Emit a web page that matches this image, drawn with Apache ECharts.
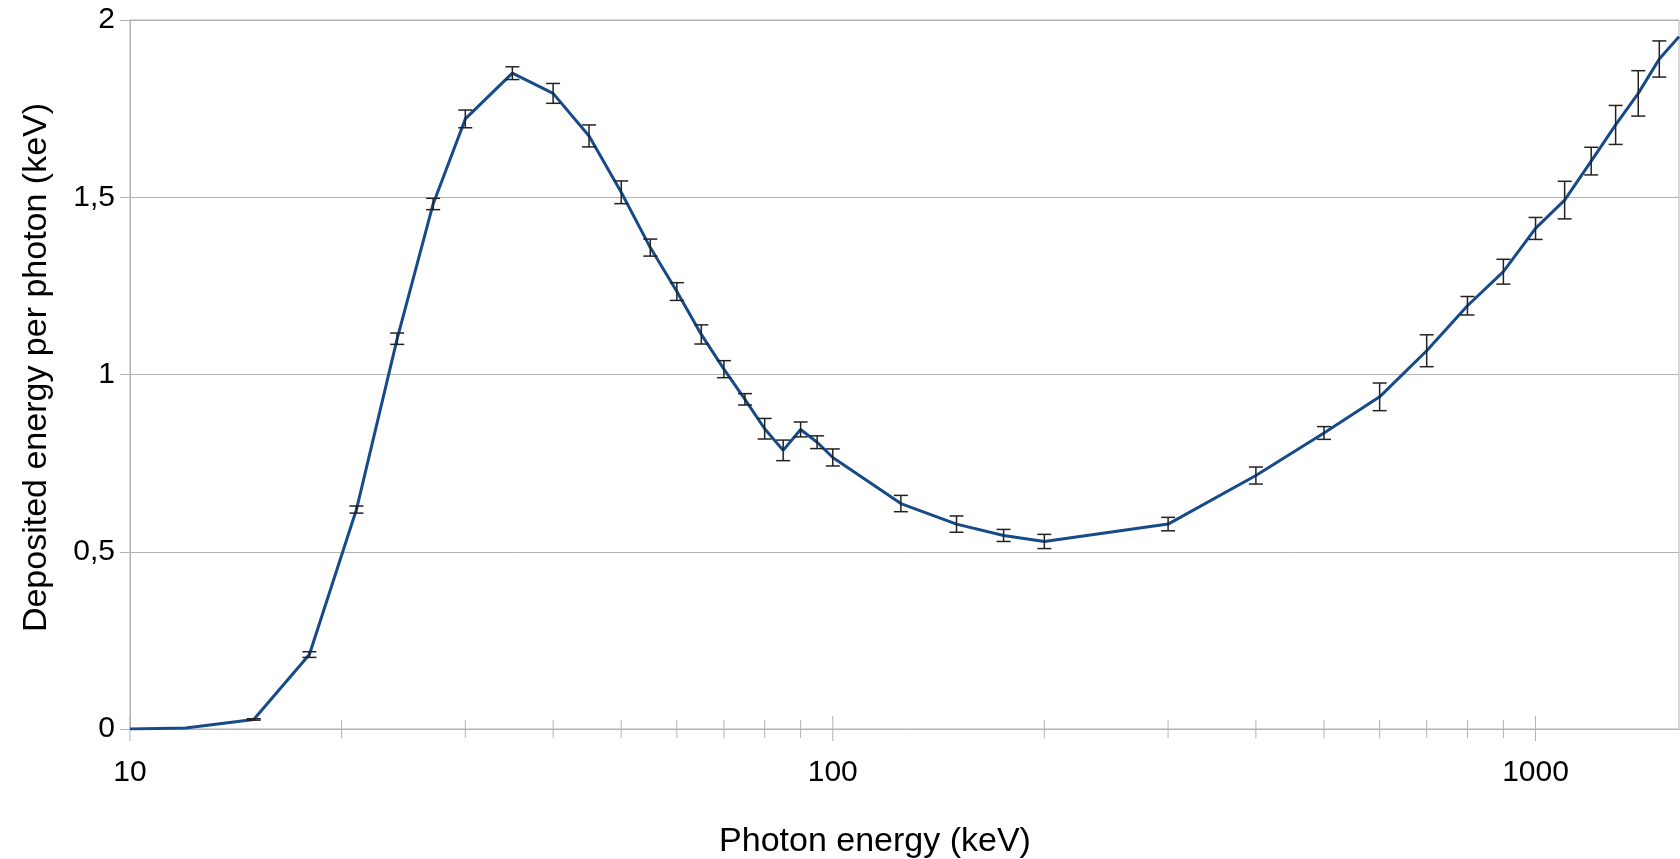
<!DOCTYPE html>
<html>
<head>
<meta charset="utf-8">
<script src="https://cdn.jsdelivr.net/npm/echarts@6/dist/echarts.min.js"></script>
<style>
html,body{margin:0;padding:0;background:#fff;}
#chart{width:1680px;height:859px;}
</style>
</head>
<body>
<div id="chart"></div>
<script>
// Photon energy (keV)
const energies = [10, 12, 15, 18, 21, 24, 27, 30, 35, 40, 45, 50, 55, 60, 65, 70, 75, 80, 85, 90, 95, 100, 125, 150, 175, 200, 300, 400, 500, 600, 700, 800, 900, 1000, 1100, 1200, 1300, 1400, 1500, 1600];
// Deposited energy per photon (keV)
const deposited = [0, 0.003, 0.027, 0.21, 0.619, 1.101, 1.481, 1.721, 1.850, 1.793, 1.673, 1.514, 1.358, 1.234, 1.113, 1.015, 0.930, 0.847, 0.786, 0.845, 0.809, 0.766, 0.636, 0.578, 0.546, 0.529, 0.578, 0.715, 0.835, 0.937, 1.067, 1.194, 1.290, 1.412, 1.492, 1.602, 1.704, 1.793, 1.890, 1.953];
// Error (half-height of error bar)
const errors = [0, 0, 0.002, 0.008, 0.010, 0.016, 0.016, 0.025, 0.018, 0.028, 0.031, 0.032, 0.024, 0.025, 0.027, 0.024, 0.016, 0.029, 0.029, 0.021, 0.018, 0.024, 0.023, 0.023, 0.017, 0.020, 0.019, 0.024, 0.018, 0.039, 0.045, 0.026, 0.035, 0.031, 0.053, 0.039, 0.055, 0.064, 0.051, 0];
// Axis ticks
const majorTicks = [10, 100, 1000];
const minorTicks = [20, 30, 40, 50, 60, 70, 80, 90, 200, 300, 400, 500, 600, 700, 800, 900];
const xMin = 10, xMax = 1600;
const yMin = 0, yMax = 2, yStep = 0.5;

const gridColor = '#b3b3b3';
const textColor = '#000000';
const fontFam = '"Liberation Sans", Arial, sans-serif';

const lineData = energies.map((e, i) => [e, deposited[i]]);
const errData = energies.map((e, i) => [e, deposited[i], errors[i]]).filter(d => d[2] > 0);
const tickData = majorTicks.map(v => [v, 1]).concat(minorTicks.map(v => [v, 0]));

const chart = echarts.init(document.getElementById('chart'), null, {renderer: 'canvas'});
chart.setOption({
  animation: false,
  backgroundColor: '#ffffff',
  grid: {left: 130, right: 1, top: 20, bottom: 130, containLabel: false, outerBoundsMode: 'none',
         show: true, borderColor: gridColor, borderWidth: 1, backgroundColor: 'transparent'},
  xAxis: {
    type: 'log', logBase: 10, min: xMin, max: xMax,
    name: 'Photon energy (keV)', nameLocation: 'middle', nameGap: 96,
    nameTextStyle: {fontSize: 34, color: textColor, fontFamily: fontFam, padding: [0, 59, 0, 0]},
    axisLine: {show: true, lineStyle: {color: gridColor, width: 1}},
    axisTick: {show: false},
    splitLine: {show: false},
    axisLabel: {
      fontSize: 30, color: textColor, fontFamily: fontFam, margin: 29,
      showMaxLabel: false,
      formatter: function (v) {
        return majorTicks.indexOf(Math.round(v)) >= 0 ? String(Math.round(v)) : '';
      }
    }
  },
  yAxis: {
    type: 'value', min: yMin, max: yMax, interval: yStep,
    name: 'Deposited energy per photon (keV)', nameLocation: 'middle', nameGap: 76,
    nameTextStyle: {fontSize: 34, color: textColor, fontFamily: fontFam, padding: [0, 0, 0, 14]},
    axisLine: {show: true, lineStyle: {color: gridColor, width: 1}},
    axisTick: {show: true, length: 10, lineStyle: {color: gridColor, width: 1}},
    splitLine: {show: true, lineStyle: {color: gridColor, width: 1}},
    axisLabel: {
      fontSize: 30, color: textColor, fontFamily: fontFam, margin: 15,
      formatter: v => String(v).replace('.', ',')
    }
  },
  series: [
    {
      type: 'custom',
      name: 'ticks',
      silent: true,
      clip: false,
      z: 1,
      data: tickData,
      renderItem: function (params, api) {
        const p = api.coord([api.value(0), yMin]);
        const major = api.value(1) === 1;
        const up = major ? 13 : 9, down = major ? 12 : 9;
        return {
          type: 'line',
          shape: {x1: p[0], y1: p[1] - up, x2: p[0], y2: p[1] + down},
          style: {stroke: gridColor, lineWidth: 1}
        };
      }
    },
    {
      type: 'line',
      name: 'Deposited energy',
      data: lineData,
      showSymbol: false,
      symbol: 'none',
      lineStyle: {color: '#174a88', width: 3},
      z: 3
    },
    {
      type: 'custom',
      name: 'errors',
      silent: true,
      z: 4,
      data: errData,
      renderItem: function (params, api) {
        const x = api.value(0), v = api.value(1), e = api.value(2);
        const top = api.coord([x, v + e]);
        const bot = api.coord([x, v - e]);
        const hw = 7;
        const st = {stroke: '#222222', lineWidth: 1.5};
        return {
          type: 'group',
          children: [
            {type: 'line', shape: {x1: top[0], y1: top[1], x2: bot[0], y2: bot[1]}, style: st},
            {type: 'line', shape: {x1: top[0] - hw, y1: top[1], x2: top[0] + hw, y2: top[1]}, style: st},
            {type: 'line', shape: {x1: bot[0] - hw, y1: bot[1], x2: bot[0] + hw, y2: bot[1]}, style: st}
          ]
        };
      }
    }
  ]
});
</script>
</body>
</html>
